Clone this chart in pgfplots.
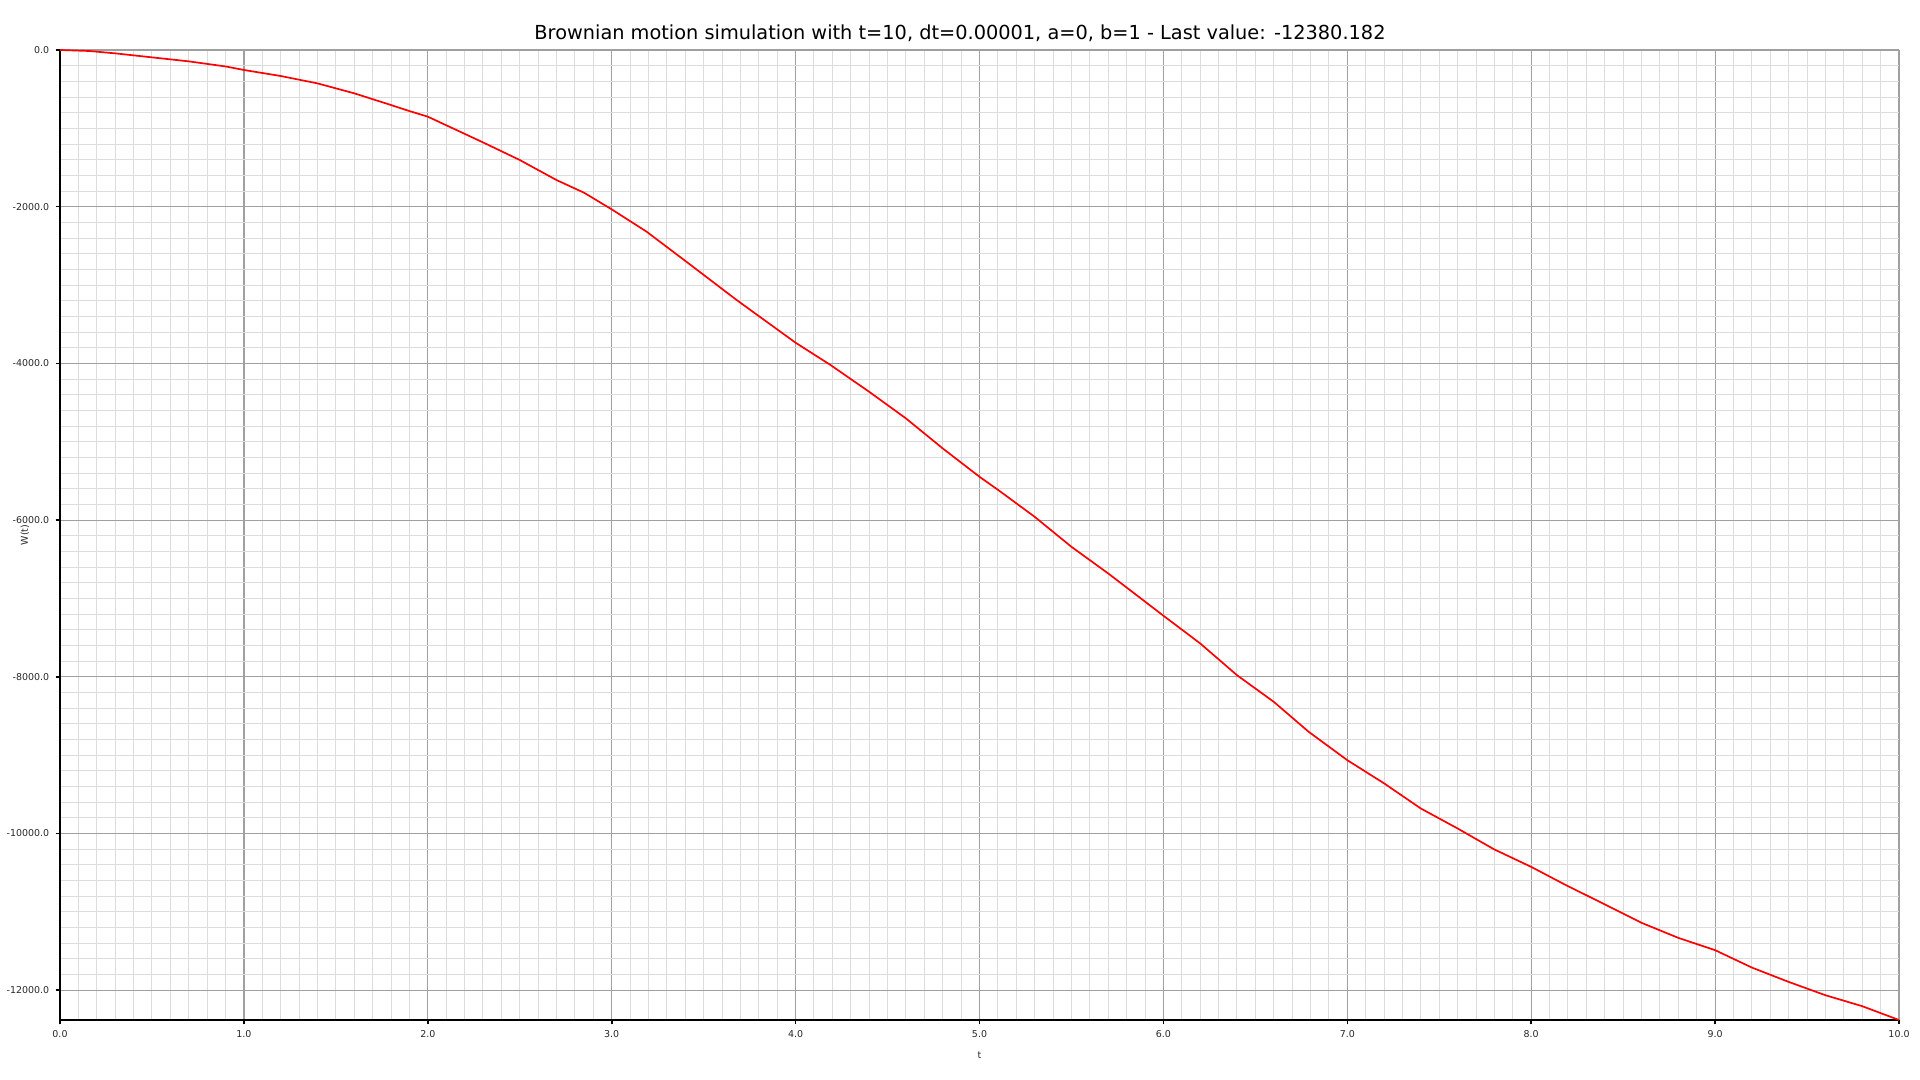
\documentclass[border=0pt]{standalone}
\usepackage{pgfplots}
\pgfplotsset{compat=1.18}
\usepackage{fontspec}
\setmainfont{DejaVu Sans}

\definecolor{majorgrid}{RGB}{160,160,160}
\definecolor{minorgrid}{RGB}{220,220,220}
\definecolor{labeltext}{RGB}{40,40,40}

\begin{document}
\begin{tikzpicture}
\begin{axis}[
  scale only axis,
  width=919.5bp,
  height=485bp,
  xmin=0, xmax=10,
  ymin=-12380.182, ymax=0,
  enlargelimits=false,
  scaled ticks=false,
  axis lines=left,
  axis line style={-, black, line width=1bp},
  xtick={0,1,...,10},
  xticklabels={0.0,1.0,2.0,3.0,4.0,5.0,6.0,7.0,8.0,9.0,10.0},
  ytick={-12000,-10000,-8000,-6000,-4000,-2000,0},
  yticklabels={-12000.0,-10000.0,-8000.0,-6000.0,-4000.0,-2000.0,0.0},
  minor x tick num=9,
  minor y tick num=9,
  tick align=outside,
  major tick length=2.2bp,
  minor tick length=0pt,
  major tick style={black, line width=0.8bp},
  grid=both,
  major grid style={majorgrid, line width=0.6bp},
  minor grid style={minorgrid, line width=0.5bp},
  xticklabel style={font=\fontsize{4.75}{6}\selectfont, text=labeltext, inner sep=0pt, anchor=north, yshift=-3bp},
  yticklabel style={font=\fontsize{4.75}{6}\selectfont, text=labeltext, inner sep=0pt, anchor=east, xshift=-3bp},
  clip=false,
]

% simulated path
\addplot[red, line width=0.85bp] coordinates {
  (0,0) (0.16,-13) (0.30,-43) (0.50,-94) (0.70,-145) (0.90,-210)
  (1.0,-255) (1.2,-332) (1.4,-426) (1.6,-553) (1.79,-695)
  (1.89,-772) (2.0,-851) (2.3,-1179) (2.5,-1404) (2.7,-1660) (2.85,-1822)
  (3.0,-2034) (3.19,-2319) (3.43,-2745) (3.68,-3192) (4.0,-3736) (4.19,-4021)
  (4.40,-4362) (4.60,-4702) (4.80,-5085) (5.0,-5447) (5.11,-5630) (5.30,-5958)
  (5.50,-6341) (5.70,-6681) (5.90,-7040) (6.0,-7220) (6.2,-7574) (6.4,-7979)
  (6.6,-8319) (6.79,-8702) (7.0,-9064) (7.2,-9360) (7.4,-9681) (7.6,-9936)
  (7.8,-10204) (8.0,-10426) (8.19,-10660) (8.39,-10893) (8.6,-11140)
  (8.8,-11332) (9.0,-11489) (9.2,-11711) (9.4,-11894) (9.6,-12064)
  (9.8,-12204) (10,-12380.182)
};

\node[font=\fontsize{9.7}{11}\selectfont, anchor=base, yshift=5.3bp]
  at (rel axis cs:0.4894,1) {Brownian motion simulation with t=10, dt=0.00001, a=0, b=1 - Last value: -12380.182};
\node[font=\fontsize{4.75}{6}\selectfont, text=labeltext, yshift=-17.75bp] at (rel axis cs:0.5,0) {t};
\node[font=\fontsize{4.75}{6}\selectfont, text=labeltext, rotate=90, yshift=17.5bp] at (rel axis cs:0,0.5) {W(t)};

\end{axis}
\pgfresetboundingbox
\path[use as bounding box] ([shift={(-30bp,-30bp)}]current axis.south west) rectangle ([shift={(10.5bp,25bp)}]current axis.north east);
\end{tikzpicture}
\end{document}
